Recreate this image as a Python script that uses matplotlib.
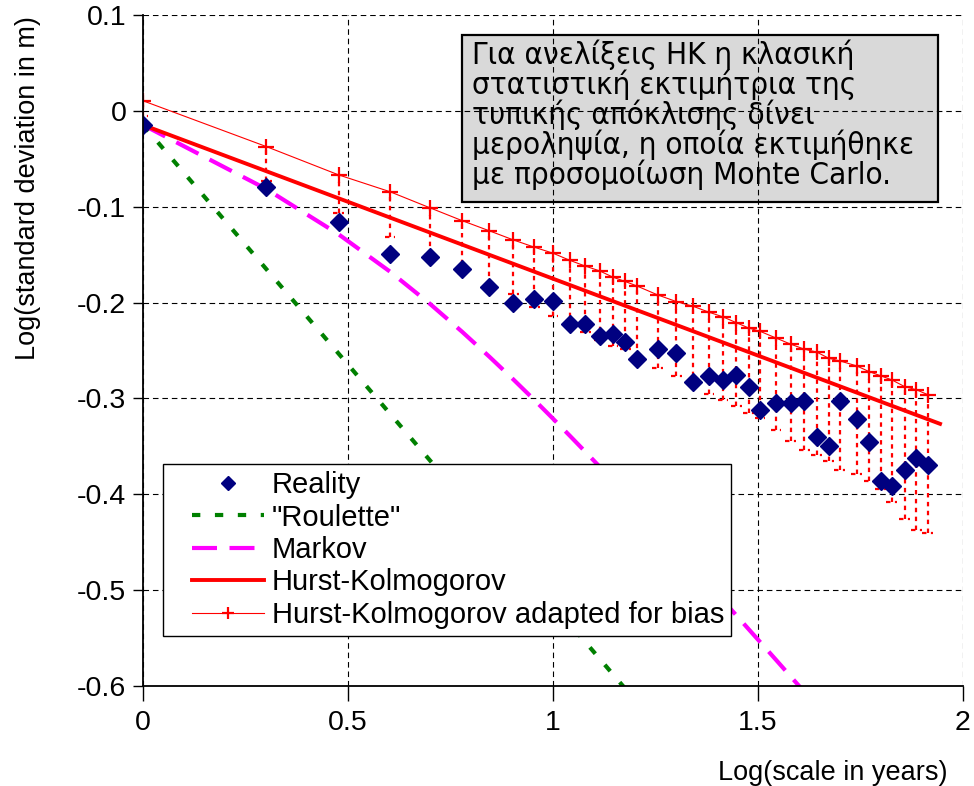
import matplotlib
matplotlib.use("Agg")
import matplotlib.pyplot as plt
from matplotlib.patches import Rectangle
from matplotlib.lines import Line2D
from matplotlib.legend_handler import HandlerLine2D
import numpy as np

# ---------------- data ----------------
scales = [1, 2, 3, 4, 5, 6, 7, 8, 9, 10, 11, 12, 13, 14, 15, 16, 18, 20, 22, 24,
          26, 28, 30, 32, 35, 38, 41, 44, 47, 50, 55, 59, 63, 67, 72, 77, 82]

reality = [-0.0147, -0.0797, -0.1162, -0.1492, -0.1527, -0.1652, -0.1840, -0.2006,
           -0.1965, -0.1980, -0.2220, -0.2220, -0.2350, -0.2330, -0.2410, -0.2590,
           -0.2480, -0.2530, -0.2830, -0.2770, -0.2810, -0.2760, -0.2880, -0.3120,
           -0.3050, -0.3050, -0.3025, -0.3400, -0.3500, -0.3025, -0.3210, -0.3456,
           -0.3860, -0.3910, -0.3745, -0.3620, -0.3690]

hk_adapted = [0.0105, -0.0373, -0.0668, -0.0843, -0.1010, -0.1145, -0.1252, -0.1346,
              -0.1422, -0.1485, -0.1560, -0.1620, -0.1670, -0.1735, -0.1780, -0.1826,
              -0.1920, -0.1990, -0.2040, -0.2100, -0.2150, -0.2210, -0.2265, -0.2300,
              -0.2370, -0.2434, -0.2486, -0.2517, -0.2580, -0.2608, -0.2660, -0.2720,
              -0.2764, -0.2806, -0.2876, -0.2910, -0.2960]

hk_adapted_low = [-0.0050, -0.0728, -0.1068, -0.1311, -0.1500, -0.1687, -0.1815, -0.1913,
                  -0.2048, -0.2143, -0.2240, -0.2302, -0.2390, -0.2451, -0.2486, -0.2563,
                  -0.2678, -0.2764, -0.2858, -0.2952, -0.3015, -0.3077, -0.3147, -0.3206,
                  -0.3330, -0.3440, -0.3536, -0.3595, -0.3648, -0.3745, -0.3786, -0.3866,
                  -0.3946, -0.4080, -0.4256, -0.4370, -0.4400]

markov_scales = [1, 2, 3, 4, 5, 6, 7, 8, 9, 10, 11, 12, 13, 14, 15, 16, 18, 20, 22,
                 24, 26, 28, 30, 32, 35, 38, 41, 44]
markov = [-0.0147, -0.0816, -0.1288, -0.1676, -0.2010, -0.2304, -0.2566, -0.2801,
          -0.3015, -0.3211, -0.3391, -0.3558, -0.3713, -0.3858, -0.3994, -0.4123,
          -0.4359, -0.4572, -0.4766, -0.4945, -0.5110, -0.5263, -0.5407, -0.5541,
          -0.5728, -0.5901, -0.6061, -0.6209]

roulette_x = [0.0, 1.30]
roulette_y = [-0.0147, -0.6647]

hk_x = [0.0, 1.944]
hk_y = [-0.0147, -0.3265]

x_ticks = [0, 0.5, 1, 1.5, 2]
x_tick_labels = ["0", "0.5", "1", "1.5", "2"]
y_ticks = [0.1, 0, -0.1, -0.2, -0.3, -0.4, -0.5, -0.6]
y_tick_labels = ["0.1", "0", "-0.1", "-0.2", "-0.3", "-0.4", "-0.5", "-0.6"]

legend_labels = ["Reality", "\"Roulette\"", "Markov", "Hurst-Kolmogorov",
                 "Hurst-Kolmogorov adapted for bias"]

note_text = ("Για ανελίξεις ΗΚ η κλασική\n"
             "στατιστική εκτιμήτρια της\n"
             "τυπικής απόκλισης δίνει\n"
             "μεροληψία, η οποία εκτιμήθηκε\n"
             "με προσομοίωση Monte Carlo.")

x_label = "Log(scale in years)"
y_label = "Log(standard deviation in m)"

# ---------------- plotting ----------------
plt.rcParams['font.family'] = ['Liberation Sans', 'DejaVu Sans']

lx = np.log10(scales)
lmx = np.log10(markov_scales)

fig = plt.figure(figsize=(9.74, 7.86), dpi=100)
ax = fig.add_axes([143 / 974, 1 - 686 / 786, 820 / 974, 671 / 786])

ax.set_xlim(0, 2)
ax.set_ylim(-0.6, 0.1)

# note box (drawn below the grid)
ax.add_patch(Rectangle((0.389, 0.721), 0.5805, 0.249, transform=ax.transAxes,
                       facecolor='#D9D9D9', edgecolor='black', linewidth=1.6,
                       zorder=0.2))
ax.text(0.4015, 0.963, note_text, transform=ax.transAxes, ha='left', va='top',
        fontsize=22.5, family=['DejaVu Sans'], fontstretch='condensed',
        linespacing=0.975, zorder=6)

ax.set_axisbelow(True)
ax.grid(True, color='black', linestyle=(0, (5, 3.5)), linewidth=0.8)

ax.plot(roulette_x, roulette_y, color='#008000', linestyle=(0, (2, 3.5)),
        linewidth=3.0, zorder=2, label=legend_labels[1])
ax.plot(lmx, markov, color='#FF00FF', linestyle=(0, (6, 3)), linewidth=3.0,
        zorder=2, label=legend_labels[2])
ax.plot(hk_x, hk_y, color='#FF0000', linewidth=2.8, zorder=3,
        label=legend_labels[3])

# dotted bias error bars with dotted caps
ax.vlines(lx, hk_adapted_low, hk_adapted, colors='#FF0000',
          linestyles=(0, (2, 2)), linewidth=1.6, zorder=3)
cap = 0.013
ax.hlines(hk_adapted_low, lx - cap, lx + cap, colors='#FF0000',
          linestyles=(0, (2, 2)), linewidth=1.6, zorder=3)

ax.plot(lx, hk_adapted, color='#FF0000', linewidth=0.8, marker='+',
        markersize=12, markeredgewidth=1.6, zorder=4, label=legend_labels[4])
ax.plot(lx, reality, linestyle='none', marker='D', markersize=9.5,
        color='#000080', zorder=5, label=legend_labels[0])

# spines & ticks
for s in ['top', 'right']:
    ax.spines[s].set_visible(False)
for s in ['left', 'bottom']:
    ax.spines[s].set_linewidth(1.3)
    ax.spines[s].set_zorder(6)

ax.set_xticks(x_ticks)
ax.set_xticklabels(x_tick_labels)
ax.set_yticks(y_ticks)
ax.set_yticklabels(y_tick_labels)
ax.tick_params(axis='x', direction='out', length=11, width=1, pad=6,
               labelsize=20.5)
ax.tick_params(axis='y', direction='out', length=7, width=1, pad=5,
               labelsize=20.5)

fig.text(948 / 974, 1 - 773 / 786, x_label, ha='right', va='center',
         fontsize=19.5)
fig.text(28 / 974, 1 - 188 / 786, y_label, ha='center', va='center',
         rotation=90, fontsize=19.5)

# legend
handles, labels = ax.get_legend_handles_labels()
order = [labels.index(l) for l in legend_labels]
leg = ax.legend([handles[i] for i in order], [labels[i] for i in order],
                loc='lower left', bbox_to_anchor=(0.0244, 0.0745),
                borderaxespad=0, fontsize=21, numpoints=1,
                handlelength=3.2, handletextpad=0.27, labelspacing=0.15,
                borderpad=0.25, fancybox=False, framealpha=1,
                edgecolor='black', markerscale=0.75,
                handler_map={Line2D: HandlerLine2D(xpad=0.75)})
leg.get_frame().set_linewidth(1.0)
leg.set_zorder(7)

fig.savefig("out.png", dpi=100)
